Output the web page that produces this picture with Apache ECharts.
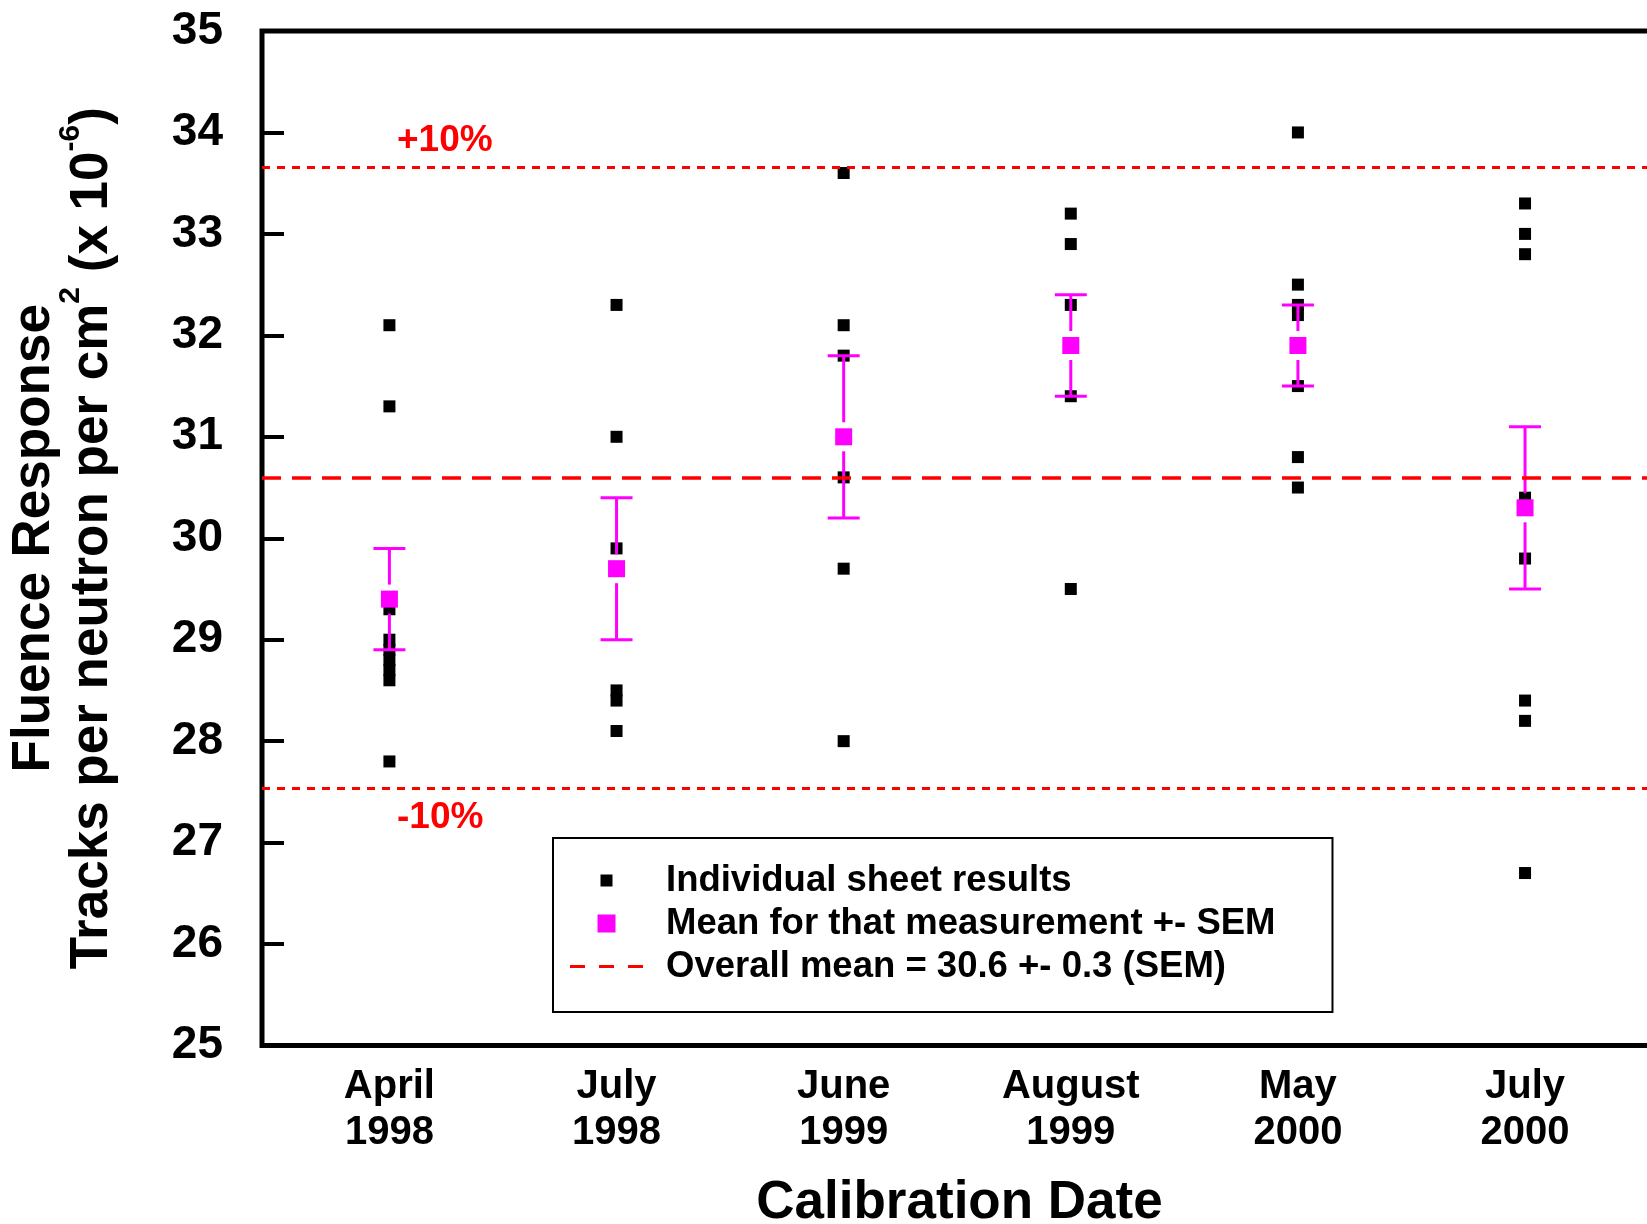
<!DOCTYPE html>
<html>
<head>
<meta charset="utf-8">
<script src="https://cdn.jsdelivr.net/npm/echarts@6/dist/echarts.min.js"></script>
<style>
  html, body { margin: 0; padding: 0; background: #fff; overflow: hidden; }
  #chart { width: 1647px; height: 1224px; }
</style>
</head>
<body>
<div id="chart"></div>
<script>
// Calibration campaigns (x tick labels) and their plotting positions
const categories = ['April\n1998', 'July\n1998', 'June\n1999', 'August\n1999', 'May\n2000', 'July\n2000'];
const positions = [1, 2, 3, 4, 5, 6];

// Individual sheet results per campaign (tracks per neutron per cm², x 10^-6)
const april1998 = [32.1, 31.3, 29.3, 29.0, 28.9, 28.8, 28.7, 28.6, 27.8];
const july1998 = [32.3, 31.0, 29.9, 28.5, 28.4, 28.1];
const june1999 = [33.6, 32.1, 31.8, 30.6, 29.7, 28.0];
const august1999 = [33.2, 32.9, 32.3, 31.4, 29.5];
const may2000 = [34.0, 32.5, 32.3, 32.2, 31.5, 30.8, 30.5];
const july2000 = [33.3, 33.0, 32.8, 30.4, 29.8, 28.4, 28.2, 26.7];
const sheetResults = [april1998, july1998, june1999, august1999, may2000, july2000];

// Mean of each campaign and its standard error
const campaignMeans = [29.4, 29.7, 31.0, 31.9, 31.9, 30.3];
const campaignSems = [0.5, 0.7, 0.8, 0.5, 0.4, 0.8];

// Overall mean and the +/-10% band around it
const overallMean = 30.6;
const overallSem = 0.3;
const bandFraction = 0.10;

const yTicks = [25, 26, 27, 28, 29, 30, 31, 32, 33, 34, 35];

const FONT = '"Liberation Sans", Arial, Helvetica, sans-serif';
const RED = '#ff0000';
const MAGENTA = '#ff00ff';

const sheetPoints = [];
sheetResults.forEach((vals, i) => vals.forEach(v => sheetPoints.push([positions[i], v])));
const meanPoints = campaignMeans.map((m, i) => [positions[i], m]);
const errorData = campaignMeans.map((m, i) => [positions[i], m, campaignSems[i]]);

const nameSheets = 'Individual sheet results';
const nameMeans = 'Mean for that measurement +- SEM';
const nameOverall = 'Overall mean = ' + overallMean.toFixed(1) + ' +- ' + overallSem.toFixed(1) + ' (SEM)';

// Legend glyphs: small black square, larger magenta square, short red dashes
const iconSheet = 'path://M0,0M18,18M3,3L15,3L15,15L3,15Z';
const iconMean = 'path://M0,0L18,0L18,18L0,18Z';
const iconOverall = 'path://M0,0L15,0L15,3L0,3Z M29,0L44,0L44,3L29,3Z M58,0L73,0L73,3L58,3Z';

const chart = echarts.init(document.getElementById('chart'), null, { renderer: 'canvas' });

chart.setOption({
  animation: false,
  backgroundColor: '#fff',
  grid: {
    left: 262, right: -10, top: 31, bottom: 178.5,
    outerBoundsMode: 'none',
    containLabel: false,
    show: true, borderColor: '#000', borderWidth: 5, backgroundColor: 'transparent'
  },
  xAxis: {
    type: 'value',
    min: 0.439, max: 6.581,
    name: 'Calibration Date',
    nameLocation: 'middle',
    nameGap: 131,
    nameTextStyle: { fontFamily: FONT, fontWeight: 'bold', fontSize: 53, lineHeight: 53, color: '#000' },
    axisLine: { show: false },
    axisTick: { show: false },
    splitLine: { show: false },
    axisLabel: {
      customValues: positions,
      formatter: v => categories[Math.round(v) - 1] || '',
      fontFamily: FONT, fontWeight: 'bold', fontSize: 40, lineHeight: 46,
      color: '#000', margin: 18
    }
  },
  yAxis: {
    type: 'value',
    min: yTicks[0], max: yTicks[yTicks.length - 1], interval: 1,
    name: '{a|Fluence Response}\n{b|Tracks per neutron per cm}{s|2}{b| (x 10}{s|-6}{b|)}',
    nameLocation: 'middle',
    nameRotate: 90,
    nameGap: 133,
    nameTextStyle: {
      fontFamily: FONT, fontWeight: 'bold', fontSize: 53, color: '#000',
      rich: {
        a: { fontFamily: FONT, fontWeight: 'bold', fontSize: 53, lineHeight: 43, color: '#000' },
        b: { fontFamily: FONT, fontWeight: 'bold', fontSize: 53, lineHeight: 73, color: '#000' },
        s: { fontFamily: FONT, fontWeight: 'bold', fontSize: 30, lineHeight: 6, verticalAlign: 'top', color: '#000' }
      }
    },
    axisLine: { show: false },
    axisTick: { show: true, inside: true, length: 22, lineStyle: { color: '#000', width: 4 } },
    splitLine: { show: false },
    axisLabel: { fontFamily: FONT, fontWeight: 'bold', fontSize: 46, color: '#000', margin: 39 }
  },
  legend: {
    orient: 'vertical',
    left: 553, top: 838,
    padding: [21, 57, 24, 17],
    itemGap: 0,
    itemWidth: 73,
    itemHeight: 18,
    symbolKeepAspect: true,
    selectedMode: false,
    backgroundColor: '#fff',
    borderColor: '#000',
    borderWidth: 2,
    borderRadius: 0,
    textStyle: { fontFamily: FONT, fontWeight: 'bold', fontSize: 36.5, lineHeight: 43, color: '#000', padding: [0, 0, 0, 18] },
    data: [
      { name: nameSheets, icon: iconSheet, itemStyle: { color: '#000', opacity: 1 } },
      { name: nameMeans, icon: iconMean, itemStyle: { color: MAGENTA, opacity: 1 } },
      { name: nameOverall, icon: iconOverall, itemStyle: { color: RED, opacity: 1 } }
    ]
  },
  series: [
    {
      name: nameOverall,
      type: 'line',
      data: [],
      symbol: 'none',
      z: 1,
      itemStyle: { color: RED },
      lineStyle: { color: RED, width: 3.5, type: [19, 11] },
      markLine: {
        silent: true,
        symbol: ['none', 'none'],
        data: [
          {
            yAxis: overallMean,
            lineStyle: { color: RED, width: 3.5, type: [19, 11] },
            label: { show: false }
          },
          {
            yAxis: +(overallMean * (1 + bandFraction)).toFixed(2),
            lineStyle: { color: RED, width: 3, type: [8, 7] },
            label: {
              show: true, position: 'insideStartTop', distance: [135, 8],
              formatter: '+10%', color: RED, fontFamily: FONT, fontWeight: 'bold', fontSize: 37
            }
          },
          {
            yAxis: +(overallMean * (1 - bandFraction)).toFixed(2),
            lineStyle: { color: RED, width: 3, type: [8, 7] },
            label: {
              show: true, position: 'insideStartBottom', distance: [135, 11],
              formatter: '-10%', color: RED, fontFamily: FONT, fontWeight: 'bold', fontSize: 37
            }
          }
        ]
      }
    },
    {
      name: nameSheets,
      type: 'scatter',
      data: sheetPoints,
      symbol: 'rect',
      symbolSize: 12,
      z: 2,
      itemStyle: { color: '#000', opacity: 1 }
    },
    {
      name: 'SEM bars',
      type: 'custom',
      data: errorData,
      z: 3,
      renderItem: function (params, api) {
        const x = api.value(0), m = api.value(1), s = api.value(2);
        const top = api.coord([x, m + s]);
        const bot = api.coord([x, m - s]);
        const ctr = api.coord([x, m]);
        const cap = 16, gap = 14.5;
        const style = { stroke: MAGENTA, lineWidth: 3, fill: null };
        return {
          type: 'group',
          children: [
            { type: 'line', shape: { x1: top[0] - cap, y1: top[1], x2: top[0] + cap, y2: top[1] }, style },
            { type: 'line', shape: { x1: bot[0] - cap, y1: bot[1], x2: bot[0] + cap, y2: bot[1] }, style },
            { type: 'line', shape: { x1: top[0], y1: top[1], x2: top[0], y2: Math.max(top[1], ctr[1] - gap) }, style },
            { type: 'line', shape: { x1: bot[0], y1: Math.min(bot[1], ctr[1] + gap), x2: bot[0], y2: bot[1] }, style }
          ]
        };
      }
    },
    {
      name: nameMeans,
      type: 'scatter',
      data: meanPoints,
      symbol: 'rect',
      symbolSize: 17,
      z: 4,
      itemStyle: { color: MAGENTA, opacity: 1 }
    }
  ]
});
</script>
</body>
</html>
